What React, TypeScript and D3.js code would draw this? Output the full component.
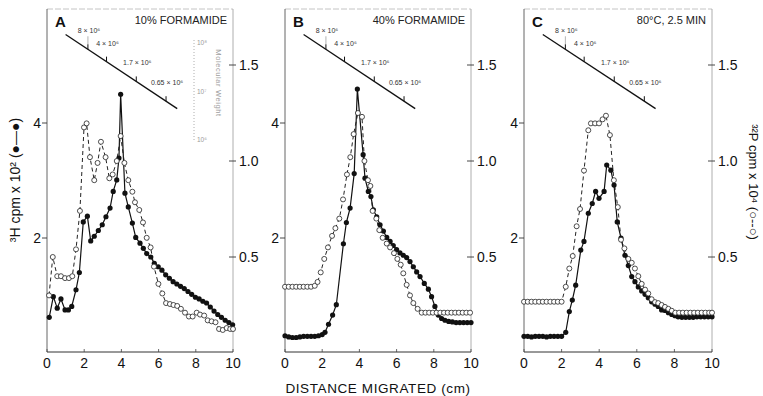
import React, { useEffect, useRef } from 'react';
import * as d3 from 'd3';

// axis ticks
const xTicks = [0, 2, 4, 6, 8, 10];
const hTicks = [2, 4];
const pTicks = [0.5, 1.0, 1.5];

const panelLetters = ['A', 'B', 'C'];
const panelTitles = ['10% FORMAMIDE', '40% FORMAMIDE', '80°C, 2.5 MIN'];

// molecular weight markers along the migration axis
const mwMarkX = [2.2, 3.2, 4.8, 6.4];
const mwMarkLabels = ['8 × 10⁶', '4 × 10⁶', '1.7 × 10⁶', '0.65 × 10⁶'];
const mwLineX = [1.0, 7.0];
const mwLineH = [5.54, 4.25]; // drawn in 3H units
const mwAxisValues = [1e8, 1e7, 1e6];
const mwAxisLabels = ['10⁸', '10⁷', '10⁶'];

// [distance cm, 3H cpm x 10^2]
const aH: [number, number][] = [
  [0.12, 0.62], [0.34, 0.98], [0.55, 0.78], [0.75, 0.94], [0.97, 0.75], [1.15, 0.75],
  [1.33, 0.81], [1.56, 1.1], [1.74, 1.4], [1.95, 2.28], [2.17, 2.38], [2.35, 1.95],
  [2.54, 2.03], [2.76, 2.13], [2.97, 2.23], [3.17, 2.37], [3.39, 2.52], [3.56, 2.81],
  [3.75, 3.01], [3.87, 3.39], [3.96, 4.5], [4.19, 2.78], [4.37, 2.54], [4.59, 2.26],
  [4.77, 2.01], [5.0, 1.91], [5.18, 1.82], [5.36, 1.73], [5.58, 1.67], [5.77, 1.56],
  [5.98, 1.5], [6.18, 1.44], [6.38, 1.36], [6.58, 1.3], [6.78, 1.24], [6.98, 1.2],
  [7.18, 1.16], [7.38, 1.12], [7.58, 1.07], [7.78, 1.02], [7.98, 0.97], [8.18, 0.94],
  [8.38, 0.9], [8.58, 0.87], [8.78, 0.8], [8.98, 0.73], [9.18, 0.67], [9.38, 0.62],
  [9.58, 0.57], [9.78, 0.53], [9.98, 0.49],
];
// [distance cm, 32P cpm x 10^4]
const aP: [number, number][] = [
  [0.11, 0.3], [0.31, 0.5], [0.55, 0.4], [0.75, 0.4], [0.97, 0.39], [1.18, 0.39],
  [1.36, 0.4], [1.56, 0.54], [1.77, 0.74], [1.99, 1.175], [2.13, 1.196], [2.31, 1.02],
  [2.54, 0.9], [2.72, 0.99], [2.9, 1.1], [3.15, 1.02], [3.35, 0.91], [3.53, 0.93],
  [3.75, 1.0], [3.96, 1.13], [4.16, 0.99], [4.37, 0.9], [4.59, 0.84], [4.73, 0.785],
  [4.96, 0.745], [5.16, 0.68], [5.36, 0.6], [5.57, 0.55], [5.75, 0.45], [5.99, 0.36],
  [6.2, 0.31], [6.4, 0.26], [6.61, 0.255], [6.8, 0.25], [7.0, 0.245], [7.2, 0.23],
  [7.42, 0.21], [7.63, 0.19], [7.83, 0.19], [8.05, 0.21], [8.23, 0.2], [8.45, 0.195],
  [8.64, 0.17], [8.85, 0.165], [9.06, 0.16], [9.25, 0.125], [9.45, 0.12], [9.66, 0.13],
  [9.85, 0.125], [10.0, 0.125],
];

const bH: [number, number][] = [
  [0, 0.3], [0.2, 0.28], [0.4, 0.27], [0.6, 0.27], [0.8, 0.28], [1.0, 0.29], [1.2, 0.29],
  [1.4, 0.29], [1.6, 0.29], [1.8, 0.3], [2.0, 0.32], [2.15, 0.36], [2.34, 0.5], [2.56, 0.66],
  [2.76, 0.84], [3.14, 1.9], [3.3, 2.27], [3.5, 2.52], [3.72, 3.12], [3.89, 4.59],
  [4.2, 3.45], [4.3, 3.04], [4.48, 2.81], [4.62, 2.72], [4.75, 2.49], [4.93, 2.37],
  [5.11, 2.23], [5.29, 2.12], [5.47, 2.01], [5.65, 1.94], [5.82, 1.87], [6.0, 1.8],
  [6.18, 1.74], [6.36, 1.7], [6.54, 1.66], [6.72, 1.59], [6.9, 1.5], [7.08, 1.41],
  [7.26, 1.33], [7.49, 1.21], [7.71, 1.11], [7.88, 0.98], [8.06, 0.81], [8.24, 0.66],
  [8.42, 0.6], [8.6, 0.57], [8.8, 0.55], [9.0, 0.54], [9.2, 0.53], [9.4, 0.53],
  [9.6, 0.53], [9.8, 0.53], [10.0, 0.53],
];
const bP: [number, number][] = [
  [0, 0.345], [0.2, 0.345], [0.4, 0.345], [0.6, 0.345], [0.8, 0.345], [1.0, 0.345],
  [1.2, 0.345], [1.4, 0.345], [1.6, 0.35], [1.75, 0.37], [1.92, 0.42], [2.11, 0.49],
  [2.31, 0.55], [2.53, 0.61], [2.71, 0.65], [2.92, 0.7], [3.12, 0.8], [3.33, 0.93],
  [3.51, 1.02], [3.69, 1.14], [3.92, 1.25], [4.14, 1.23], [4.27, 1.0], [4.46, 0.9],
  [4.59, 0.87], [4.71, 0.74], [4.91, 0.7], [5.07, 0.64], [5.25, 0.6], [5.47, 0.57],
  [5.65, 0.55], [5.86, 0.52], [6.04, 0.49], [6.22, 0.46], [6.36, 0.415], [6.54, 0.355],
  [6.72, 0.3], [6.9, 0.26], [7.13, 0.23], [7.35, 0.21], [7.55, 0.21], [7.75, 0.21],
  [7.95, 0.21], [8.15, 0.21], [8.35, 0.21], [8.55, 0.21], [8.75, 0.21], [8.95, 0.21],
  [9.15, 0.21], [9.35, 0.21], [9.55, 0.21], [9.75, 0.21], [9.95, 0.21],
];

const cH: [number, number][] = [
  [0, 0.29], [0.2, 0.29], [0.4, 0.28], [0.6, 0.29], [0.8, 0.29], [1.0, 0.29], [1.2, 0.28],
  [1.4, 0.29], [1.6, 0.29], [1.8, 0.29], [2.0, 0.29], [2.22, 0.36], [2.41, 0.72],
  [2.57, 0.92], [2.75, 1.18], [3.02, 1.79], [3.19, 1.94], [3.42, 2.43], [3.63, 2.6],
  [3.81, 2.81], [3.99, 2.69], [4.26, 2.81], [4.4, 3.27], [4.62, 3.18], [4.79, 2.92],
  [4.96, 2.28], [5.16, 2.0], [5.37, 1.7], [5.55, 1.52], [5.73, 1.33], [5.9, 1.24],
  [6.08, 1.15], [6.26, 1.08], [6.44, 1.02], [6.61, 0.96], [6.79, 0.89], [6.97, 0.85],
  [7.14, 0.81], [7.32, 0.75], [7.5, 0.74], [7.68, 0.7], [7.86, 0.67], [8.03, 0.65],
  [8.2, 0.63], [8.4, 0.62], [8.6, 0.62], [8.8, 0.62], [9.0, 0.62], [9.2, 0.63],
  [9.4, 0.63], [9.6, 0.63], [9.8, 0.63], [10.0, 0.63],
];
const cP: [number, number][] = [
  [0, 0.267], [0.2, 0.267], [0.4, 0.267], [0.6, 0.267], [0.8, 0.267], [1.0, 0.267],
  [1.2, 0.267], [1.4, 0.267], [1.6, 0.267], [1.8, 0.267], [2.0, 0.267], [2.22, 0.345],
  [2.41, 0.44], [2.59, 0.505], [2.8, 0.66], [2.98, 0.75], [3.19, 0.95], [3.42, 1.16],
  [3.56, 1.196], [3.78, 1.196], [3.99, 1.196], [4.18, 1.217], [4.36, 1.236], [4.57, 1.135],
  [4.78, 0.9], [4.99, 0.76], [5.16, 0.59], [5.34, 0.545], [5.55, 0.49], [5.73, 0.47],
  [5.9, 0.44], [6.08, 0.4], [6.26, 0.36], [6.44, 0.33], [6.61, 0.31], [6.79, 0.28],
  [6.97, 0.265], [7.14, 0.26], [7.32, 0.25], [7.5, 0.24], [7.68, 0.23], [7.86, 0.22],
  [8.05, 0.21], [8.25, 0.21], [8.45, 0.21], [8.65, 0.21], [8.85, 0.21], [9.05, 0.21],
  [9.25, 0.21], [9.45, 0.21], [9.65, 0.21], [9.85, 0.21], [10.0, 0.21],
];

const hSeries = [aH, bH, cH];
const pSeries = [aP, bP, cP];

const W = 763;
const H = 396;
const panelBox = [
  { left: 47, right: 233 },
  { left: 285, right: 471 },
  { left: 524, right: 712 },
];
const plotTop = 9;
const plotBottom = 352;
const FONT = "'Liberation Sans', Arial, Helvetica, sans-serif";

const App = () => {
  const svgRef = useRef<SVGSVGElement>(null);

  useEffect(() => {
    const svg = d3.select(svgRef.current);
    svg.selectAll('*').remove();

    panelBox.forEach((box, i) => {
      const g = svg.append('g');
      const x = d3.scaleLinear().domain([0, 10]).range([box.left, box.right]);
      const yH = d3.scaleLinear().domain([0, 6]).range([353, 8]);
      const yP = d3.scaleLinear().domain([0, 1.5]).range([353, 65]);

      // frame: faint top/right, dark left/bottom
      g.append('line').attr('x1', box.left).attr('x2', box.right)
        .attr('y1', plotTop).attr('y2', plotTop)
        .attr('stroke', '#b5b5b5').attr('stroke-width', 0.8).attr('stroke-dasharray', '6,2');
      g.append('line').attr('x1', box.right).attr('x2', box.right)
        .attr('y1', plotTop).attr('y2', plotBottom)
        .attr('stroke', '#9a9a9a').attr('stroke-width', 0.8);
      g.append('line').attr('x1', box.left).attr('x2', box.left)
        .attr('y1', plotTop).attr('y2', plotBottom)
        .attr('stroke', '#555').attr('stroke-width', 0.9);
      g.append('line').attr('x1', box.left).attr('x2', box.right)
        .attr('y1', plotBottom).attr('y2', plotBottom)
        .attr('stroke', '#333').attr('stroke-width', 1);

      // x ticks
      xTicks.forEach(t => {
        g.append('line').attr('x1', x(t)).attr('x2', x(t))
          .attr('y1', plotBottom).attr('y2', plotBottom - 3)
          .attr('stroke', '#444').attr('stroke-width', 0.8);
        g.append('text').attr('x', x(t)).attr('y', 368)
          .attr('text-anchor', 'middle').attr('font-family', FONT).attr('font-size', 14)
          .attr('fill', '#111').text(t);
      });

      // left (3H) ticks
      hTicks.forEach(t => {
        g.append('line').attr('x1', box.left - 5).attr('x2', box.left)
          .attr('y1', yH(t)).attr('y2', yH(t))
          .attr('stroke', '#333').attr('stroke-width', 0.9);
        g.append('text').attr('x', box.left - 6).attr('y', yH(t) + 5)
          .attr('text-anchor', 'end').attr('font-family', FONT).attr('font-size', 14)
          .attr('fill', '#111').text(t);
      });

      // right (32P) ticks
      pTicks.forEach(t => {
        g.append('line').attr('x1', box.right - 4).attr('x2', box.right + 3)
          .attr('y1', yP(t)).attr('y2', yP(t))
          .attr('stroke', '#333').attr('stroke-width', 0.9);
        g.append('text').attr('x', box.right + 6).attr('y', yP(t) + 5)
          .attr('text-anchor', 'start').attr('font-family', FONT).attr('font-size', 14)
          .attr('fill', '#111').text(d3.format('.1f')(t));
      });

      // panel letter and condition
      g.append('text').attr('x', box.left + 8).attr('y', 27)
        .attr('font-family', FONT).attr('font-size', 15).attr('font-weight', 'bold')
        .attr('fill', '#111').text(panelLetters[i]);
      g.append('text').attr('x', box.right - 6).attr('y', 24)
        .attr('text-anchor', 'end').attr('font-family', FONT).attr('font-size', 11)
        .attr('fill', '#222').text(panelTitles[i]);

      // molecular weight calibration line
      const mwAt = d3.scaleLinear().domain(mwLineX).range(mwLineH);
      g.append('line')
        .attr('x1', x(mwLineX[0])).attr('y1', yH(mwLineH[0]))
        .attr('x2', x(mwLineX[1])).attr('y2', yH(mwLineH[1]))
        .attr('stroke', '#111').attr('stroke-width', 1.3);
      mwMarkX.forEach((m, k) => {
        const mx = x(m);
        const my = yH(mwAt(m));
        g.append('line').attr('x1', mx).attr('x2', mx).attr('y1', my).attr('y2', my - 5)
          .attr('stroke', '#111').attr('stroke-width', 1);
        if (k === 0) {
          g.append('line').attr('x1', mx).attr('x2', mx).attr('y1', my - 5).attr('y2', my - 13)
            .attr('stroke', '#666').attr('stroke-width', 0.5);
        }
        g.append('text').attr('x', mx + 1).attr('y', my - 16)
          .attr('text-anchor', 'middle').attr('font-family', FONT).attr('font-size', 7)
          .attr('fill', '#333').text(mwMarkLabels[k]);
      });

      // faint molecular weight axis (panel A only)
      if (i === 0) {
        const yMW = d3.scaleLog().domain([1e6, 1e8]).range([140, 43]);
        const ax = box.right - 39;
        g.append('line').attr('x1', ax).attr('x2', ax).attr('y1', 40).attr('y2', 142)
          .attr('stroke', '#9a9a9a').attr('stroke-width', 0.8).attr('stroke-dasharray', '1,2');
        mwAxisValues.forEach((v, k) => {
          g.append('text').attr('x', ax + 3).attr('y', yMW(v) + 2)
            .attr('font-family', FONT).attr('font-size', 6.5).attr('fill', '#9a9a9a')
            .text(mwAxisLabels[k]);
        });
        g.append('text')
          .attr('transform', `translate(${ax + 22},${83}) rotate(90)`)
          .attr('text-anchor', 'middle').attr('font-family', FONT).attr('font-size', 7.5)
          .attr('fill', '#a0a0a0').attr('letter-spacing', 0.6).text('Molecular Weight');
      }

      const lineH = d3.line<[number, number]>().x(d => x(d[0])).y(d => yH(d[1]));
      const lineP = d3.line<[number, number]>().x(d => x(d[0])).y(d => yP(d[1]));

      g.append('path').attr('d', lineH(hSeries[i]))
        .attr('fill', 'none').attr('stroke', '#111').attr('stroke-width', 1.2);
      g.append('path').attr('d', lineP(pSeries[i]))
        .attr('fill', 'none').attr('stroke', '#222').attr('stroke-width', 1)
        .attr('stroke-dasharray', '4,3');

      g.selectAll('.hdot').data(hSeries[i]).enter().append('circle')
        .attr('cx', d => x(d[0])).attr('cy', d => yH(d[1])).attr('r', 2.6)
        .attr('fill', '#111');
      g.selectAll('.pdot').data(pSeries[i]).enter().append('circle')
        .attr('cx', d => x(d[0])).attr('cy', d => yP(d[1])).attr('r', 2.5)
        .attr('fill', '#fff').attr('stroke', '#222').attr('stroke-width', 0.8);
    });

    // axis titles
    svg.append('text').attr('x', 378).attr('y', 393)
      .attr('text-anchor', 'middle').attr('font-family', FONT).attr('font-size', 13.5)
      .attr('letter-spacing', 0.6).attr('fill', '#111').text('DISTANCE MIGRATED  (cm)');
    svg.append('text')
      .attr('transform', 'translate(20,180) rotate(-90)')
      .attr('text-anchor', 'middle').attr('font-family', FONT).attr('font-size', 14)
      .attr('fill', '#111').text('³H cpm x 10² (●—●)');
    svg.append('text')
      .attr('transform', 'translate(749,182) rotate(90)')
      .attr('text-anchor', 'middle').attr('font-family', FONT).attr('font-size', 13)
      .attr('fill', '#111').text('³²P cpm x 10⁴ (○--○)');
  }, []);

  return (
    <svg ref={svgRef} width={W} height={H}
      style={{ position: 'absolute', left: 0, top: 0, background: '#fff' }} />
  );
};

export default App;
